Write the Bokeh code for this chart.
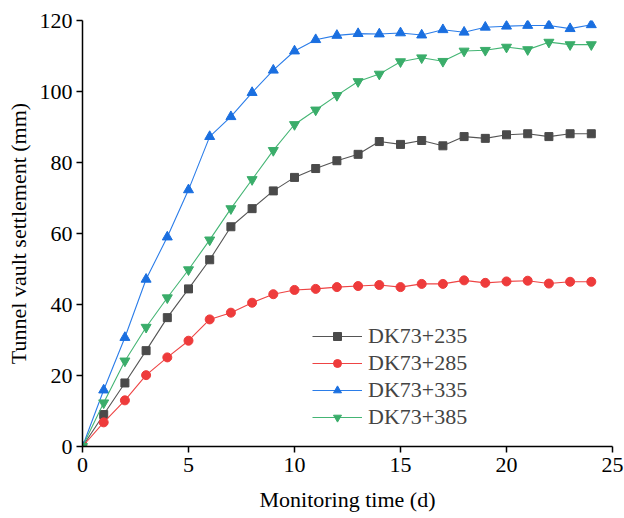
from bokeh.plotting import figure
from bokeh.embed import file_html
from bokeh.resources import INLINE
from bokeh.models import Range1d, FixedTicker, Legend, LegendItem

days = list(range(0, 25))
dk235 = [0, 9.0, 17.9, 27.0, 36.3, 44.4, 52.6, 61.9, 67.0, 72.0, 75.8, 78.3, 80.5, 82.3,
         85.9, 85.1, 86.2, 84.7, 87.3, 86.8, 87.8, 88.1, 87.3, 88.1, 88.1]
dk285 = [0, 6.8, 13.0, 20.1, 25.1, 29.8, 35.8, 37.7, 40.5, 42.9, 44.1, 44.4, 44.9, 45.2,
         45.5, 44.9, 45.8, 45.8, 46.8, 46.1, 46.5, 46.7, 45.9, 46.4, 46.4]
dk335 = [0, 15.9, 30.7, 47.1, 59.0, 72.3, 87.3, 92.9, 99.7, 106.0, 111.4, 114.6, 115.8, 116.3,
         116.2, 116.5, 115.9, 117.4, 116.7, 118.1, 118.4, 118.6, 118.6, 117.7, 118.8]
dk385 = [0, 12.3, 24.1, 33.6, 41.9, 49.8, 58.2, 67.0, 75.2, 83.4, 90.7, 94.8, 98.9, 102.8,
         104.9, 108.4, 109.5, 108.5, 111.4, 111.6, 112.5, 111.8, 113.9, 113.2, 113.2]

labels = ["DK73+235", "DK73+285", "DK73+335", "DK73+385"]
x_ticks = [0, 5, 10, 15, 20, 25]
y_ticks = [0, 20, 40, 60, 80, 100, 120]
x_title = "Monitoring time (d)"
y_title = "Tunnel vault settlement (mm)"

FONT = "Liberation Serif"
FS = "22px"

p = figure(width=624, height=518, output_backend="svg", toolbar_location=None,
           x_range=Range1d(0, 25), y_range=Range1d(0, 120),
           min_border_left=82, min_border_right=12, min_border_top=20, min_border_bottom=72)
p.outline_line_color = None
p.grid.visible = False
p.background_fill_color = "white"
p.border_fill_color = "white"

series = [
    (dk235, "#4a4a4a", "#555555", "square", 8),
    (dk285, "#ee3b3b", "#ee4444", "circle", 9),
    (dk335, "#1a6fe0", "#2b7de9", "triangle", 10),
    (dk385, "#3aad6a", "#44b574", "inverted_triangle", 10),
]
items = []
for (vals, mcol, lcol, mk, sz), lab in zip(series, labels):
    r1 = p.line(days, vals, line_color=lcol, line_width=1.1)
    r2 = p.scatter(days, vals, marker=mk, size=sz, fill_color=mcol, line_color=mcol)
    items.append(LegendItem(label=lab, renderers=[r1, r2]))

legend = Legend(items=items, location=(230, 16))
legend.border_line_color = None
legend.background_fill_alpha = 0
legend.label_text_font = FONT
legend.label_text_font_size = FS
legend.glyph_width = 50
legend.glyph_height = 20
legend.label_height = 20
legend.spacing = 1
legend.padding = 0
legend.label_standoff = 6
legend.margin = 0
p.add_layout(legend, "center")

for ax in (p.xaxis, p.yaxis):
    ax.axis_line_width = 1.5
    ax.axis_line_color = "black"
    ax.major_tick_line_width = 1.5
    ax.major_tick_line_color = "black"
    ax.major_tick_out = 6
    ax.major_tick_in = 0
    ax.minor_tick_line_color = None
    ax.major_label_text_font = FONT
    ax.major_label_text_font_size = FS
    ax.major_label_text_color = "black"
    ax.axis_label_text_font = FONT
    ax.axis_label_text_font_size = FS
    ax.axis_label_text_font_style = "normal"
    ax.axis_label_text_color = "black"

p.xaxis.ticker = FixedTicker(ticks=x_ticks)
p.yaxis.ticker = FixedTicker(ticks=y_ticks)
p.xaxis.axis_label = x_title
p.yaxis.axis_label = y_title
p.xaxis.axis_label_standoff = 12
p.yaxis.axis_label_standoff = 6
p.xaxis.major_label_standoff = 5
p.yaxis.major_label_standoff = 4

open("out.html", "w").write(file_html(p, INLINE))
